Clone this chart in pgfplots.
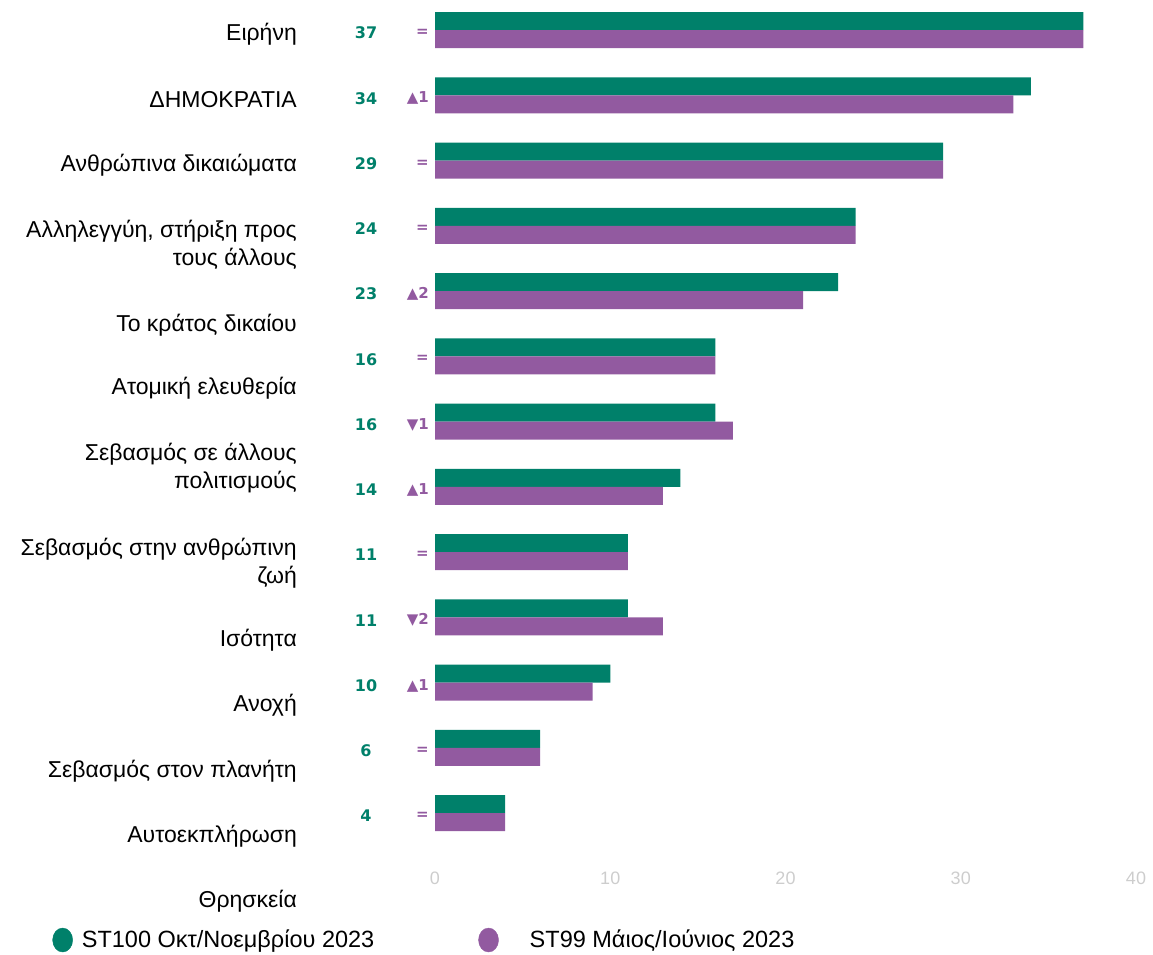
\documentclass[border=0pt]{standalone}
\usepackage{fontspec}
\setmainfont{Liberation Sans}
\newfontfamily\numfont{DejaVu Sans}
\usepackage{pgfplots}
\pgfplotsset{compat=1.18}
\usepackage{pgfplotstable}
\definecolor{cgreen}{RGB}{0,128,106}
\definecolor{cpurple}{RGB}{146,90,160}
\definecolor{ctick}{RGB}{205,205,205}

% y = position from top (0..12)
\pgfplotstableread{
pos st100 st99
0 37 37
1 34 33
2 29 29
3 24 24
4 23 21
5 16 16
6 16 17
7 14 13
8 11 11
9 11 13
10 10 9
11 6 6
12 4 4
}\datatable

\tikzset{
  val/.style={text=cgreen, font=\numfont\bfseries\fontsize{16}{18}\selectfont, anchor=center, xshift=-69pt, yshift=-3pt},
  chg/.style={text=cpurple, font=\numfont\bfseries\fontsize{15}{17}\selectfont, anchor=east, inner sep=0pt, xshift=-6pt, yshift=-3pt},
}

\begin{document}
\begin{tikzpicture}[x=1pt,y=-1pt]
\useasboundingbox (0,0) rectangle (1153,955);
\begin{axis}[
  at={(435pt,2.6pt)}, anchor=north west,
  scale only axis, width=701pt, height=848.25pt,
  xmin=0, xmax=40, ymin=-0.5, ymax=12.5, y dir=reverse,
  xbar, bar width=18pt,
  axis line style={draw=none},
  tick style={draw=none},
  ytick=\empty,
  xtick={0,10,20,30,40},
  xticklabel style={text=ctick, font=\fontsize{18}{20}\selectfont, yshift=-23pt},
  /pgf/number format/assume math mode=true,
  clip=false,
  legend columns=2,
  legend style={draw=none, fill=none, at={(-0.546,-0.111)}, anchor=west, inner sep=0pt,
    font=\fontsize{23.5}{26}\selectfont,
    /tikz/every odd column/.append style={column sep=7pt},
    /tikz/every even column/.append style={column sep=102pt}},
  legend image code/.code={\fill[#1] (10pt,-1pt) ellipse (10pt and 12pt);},
]
\addplot[draw=none, fill=cgreen, bar shift=9pt, forget plot] table[x=st100, y=pos] {\datatable};
\addplot[draw=none, fill=cpurple, bar shift=-9pt, forget plot] table[x=st99, y=pos] {\datatable};
\addlegendimage{cgreen}
\addlegendentry{ST100 Οκτ/Νοεμβρίου 2023}
\addlegendimage{cpurple}
\addlegendentry{\hspace{22pt}ST99 Μάιος/Ιούνιος 2023}

\node[val] at (axis cs:0,0) {37};
\node[val] at (axis cs:0,1) {34};
\node[val] at (axis cs:0,2) {29};
\node[val] at (axis cs:0,3) {24};
\node[val] at (axis cs:0,4) {23};
\node[val] at (axis cs:0,5) {16};
\node[val] at (axis cs:0,6) {16};
\node[val] at (axis cs:0,7) {14};
\node[val] at (axis cs:0,8) {11};
\node[val] at (axis cs:0,9) {11};
\node[val] at (axis cs:0,10) {10};
\node[val] at (axis cs:0,11) {6};
\node[val] at (axis cs:0,12) {4};

\node[chg] at (axis cs:0,0) {=};
\node[chg] at (axis cs:0,1) {▲1};
\node[chg] at (axis cs:0,2) {=};
\node[chg] at (axis cs:0,3) {=};
\node[chg] at (axis cs:0,4) {▲2};
\node[chg] at (axis cs:0,5) {=};
\node[chg] at (axis cs:0,6) {▼1};
\node[chg] at (axis cs:0,7) {▲1};
\node[chg] at (axis cs:0,8) {=};
\node[chg] at (axis cs:0,9) {▼2};
\node[chg] at (axis cs:0,10) {▲1};
\node[chg] at (axis cs:0,11) {=};
\node[chg] at (axis cs:0,12) {=};
\end{axis}

\begin{scope}[every node/.style={anchor=east, align=right, inner sep=0pt, font=\fontsize{23}{28}\selectfont}]
\node at (297,34) {Ειρήνη};
\node at (297,100) {ΔΗΜΟΚΡΑΤΙΑ};
\node at (297,165) {Ανθρώπινα δικαιώματα};
\node at (297,245) {Αλληλεγγύη, στήριξη προς\\τους άλλους};
\node at (297,325) {Το κράτος δικαίου};
\node at (297,388) {Ατομική ελευθερία};
\node at (297,468) {Σεβασμός σε άλλους\\πολιτισμούς};
\node at (297,563) {Σεβασμός στην ανθρώπινη\\ζωή};
\node at (297,640) {Ισότητα};
\node at (297,705) {Ανοχή};
\node at (297,771) {Σεβασμός στον πλανήτη};
\node at (297,836) {Αυτοεκπλήρωση};
\node at (297,901) {Θρησκεία};
\end{scope}
\end{tikzpicture}
\end{document}
